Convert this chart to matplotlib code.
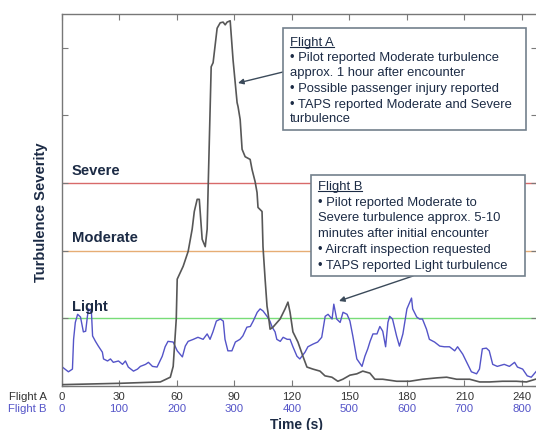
import matplotlib
matplotlib.use("Agg")
import matplotlib.pyplot as plt
from matplotlib.patches import Rectangle
from matplotlib.lines import Line2D

plt.rcParams["font.family"] = ["Liberation Sans", "DejaVu Sans"]

# Flight A: time (s) vs severity
time_a = [0, 30.7, 51.5, 56.7, 58.2, 59.8, 60.3, 63.4, 66.0, 68.1, 69.2, 70.7, 71.8, 73.3, 74.9,
          75.9, 76.4, 78.0, 79.0, 81.1, 82.7, 84.2, 85.3, 86.3, 87.9, 89.4, 91.5, 92.0, 93.1, 94.1,
          95.7, 98.3, 99.3, 100.9, 101.9, 102.4, 104.5, 105.0, 106.1, 107.1, 107.6, 108.7, 110.2,
          113.9, 116.5, 118.0, 119.1, 120.6, 123.2, 125.8, 127.9, 131.0, 134.7, 137.3, 140.9, 144.0,
          146.6, 150.3, 153.9, 157.0, 160.7, 163.3, 167.4, 174.7, 181.5, 188.2, 195.5, 200.7, 205.9,
          212.7, 217.9, 223.1, 229.8, 237.1, 242.3, 247.0]
sev_a = [0.02, 0.04, 0.06, 0.13, 0.29, 0.99, 1.58, 1.77, 1.99, 2.32, 2.58, 2.76, 2.76, 2.17, 2.06,
         2.32, 2.91, 4.72, 4.78, 5.29, 5.37, 5.38, 5.34, 5.38, 5.40, 4.82, 4.19, 4.13, 3.94, 3.50,
         3.39, 3.35, 3.20, 3.02, 2.86, 2.64, 2.58, 2.06, 1.58, 1.18, 1.09, 0.84, 0.87,
         0.99, 1.14, 1.24, 1.09, 0.80, 0.65, 0.44, 0.28, 0.25, 0.22, 0.15, 0.13, 0.07,
         0.10, 0.16, 0.18, 0.22, 0.19, 0.10, 0.10, 0.07, 0.07, 0.10, 0.12, 0.13, 0.10,
         0.10, 0.06, 0.06, 0.07, 0.07, 0.06, 0.10]

# Flight B: time (s) vs severity
time_b = [0, 12, 19, 21, 24, 28, 33, 38, 42, 45, 47, 52, 54, 59, 64, 71, 73, 80, 85, 90,
          99, 106, 111, 116, 125, 132, 137, 146, 151, 158, 166, 175, 180, 185, 194, 201, 210, 215, 220, 229,
          237, 246, 253, 258, 263, 269, 276, 281, 284, 289, 296, 302, 310, 315, 322, 328, 333, 340, 345, 350,
          357, 362, 366, 371, 374, 380, 385, 392, 397, 402, 409, 414, 423, 428, 437, 445, 452, 458, 463, 470,
          473, 478, 484, 489, 496, 501, 506, 513, 522, 527, 532, 536, 541, 548, 553, 558, 563, 567, 570, 575,
          582, 587, 593, 600, 605, 608, 610, 617, 622, 627, 634, 639, 648, 657, 665, 674, 683, 688, 697, 704,
          712, 721, 726, 731, 738, 743, 749, 757, 769, 778, 787, 792, 801, 809, 816, 825]
sev_b = [0.29, 0.21, 0.25, 0.69, 0.94, 1.06, 1.02, 0.80, 0.81, 1.03, 1.14, 1.09, 0.74, 0.66, 0.59, 0.50, 0.40, 0.37, 0.40, 0.35,
         0.37, 0.32, 0.37, 0.28, 0.22, 0.25, 0.29, 0.32, 0.35, 0.29, 0.28, 0.44, 0.58, 0.66, 0.65, 0.52, 0.43, 0.59, 0.66, 0.69,
         0.72, 0.69, 0.77, 0.69, 0.80, 0.96, 0.99, 0.96, 0.69, 0.52, 0.52, 0.65, 0.69, 0.74, 0.87, 0.88, 0.96, 1.09, 1.14, 1.11,
         1.03, 0.96, 0.87, 0.80, 0.69, 0.66, 0.72, 0.69, 0.69, 0.58, 0.44, 0.40, 0.50, 0.58, 0.62, 0.65, 0.72, 1.03, 1.06, 0.99,
         1.21, 0.99, 0.94, 1.09, 1.06, 0.96, 0.74, 0.40, 0.29, 0.44, 0.55, 0.66, 0.77, 0.77, 0.88, 0.81, 0.58, 0.94, 1.03, 0.99,
         0.74, 0.59, 0.77, 1.14, 1.24, 1.30, 1.14, 1.02, 0.99, 0.99, 0.84, 0.69, 0.65, 0.59, 0.58, 0.58, 0.52, 0.58, 0.47, 0.35,
         0.21, 0.18, 0.25, 0.55, 0.56, 0.52, 0.32, 0.29, 0.32, 0.29, 0.35, 0.28, 0.25, 0.15, 0.13, 0.22]

levels = ["Light", "Moderate", "Severe"]
level_values = [1, 2, 3]
level_colors = ["#78dc78", "#e6ad74", "#d86a6a"]

ticks_a = list(range(0, 241, 30))
ticks_b = list(range(0, 801, 100))
B_TO_A = 240 / 800  # flight B time axis is stretched to fit flight A's

note_a = ["\u2022 Pilot reported Moderate turbulence",
          "approx. 1 hour after encounter",
          "\u2022 Possible passenger injury reported",
          "\u2022 TAPS reported Moderate and Severe",
          "turbulence"]
note_b = ["\u2022 Pilot reported Moderate to",
          "Severe turbulence approx. 5-10",
          "minutes after initial encounter",
          "\u2022 Aircraft inspection requested",
          "\u2022 TAPS reported Light turbulence"]

NAVY = "#1c2b45"
GREY_A = "#575757"
BLUE_B = "#5454c8"
BOX_EDGE = "#73808c"
NOTE_FS = 9.4
LABEL_FS = 10.6
TICK_FS = 8.2

W, H = 536, 431


def fpos(x, y):
    # figure pixel (from top-left) -> figure fraction
    return x / W, 1 - y / H


fig = plt.figure(figsize=(W / 100, H / 100), dpi=100)
ax = fig.add_axes([61.5 / W, 1 - 387 / H, (537 - 61.5) / W, (387 - 15) / H])

for name, val, col in zip(levels, level_values, level_colors):
    ax.axhline(val, color=col, lw=1.0, zorder=1)
for name, val in zip(levels, level_values):
    ax.text(5.3, val + (0.18 if name == "Light" else 0.2), name, fontsize=LABEL_FS,
            fontweight="bold", color=NAVY, va="center")

ax.plot([t * B_TO_A for t in time_b], sev_b, color=BLUE_B, lw=1.0, zorder=2)
ax.plot(time_a, sev_a, color=GREY_A, lw=1.2, zorder=3)

ax.set_xlim(0, (537 - 61.5) / 57.57 * 30)
ax.set_ylim(0, 5.5)
ax.set_xticks(ticks_a)
ax.set_xticklabels([str(t) for t in ticks_a])
ax.set_yticks(range(0, 6))
ax.set_yticklabels([])
ax.tick_params(direction="in", length=4, top=True, right=True, color="#7a7a7a",
               labelsize=TICK_FS, labelcolor="#333333", pad=3.5)
for s in ax.spines.values():
    s.set_color("#777777")
    s.set_linewidth(1.0)

sec = ax.secondary_xaxis("bottom", functions=(lambda x: x / B_TO_A, lambda x: x * B_TO_A))
sec.set_xticks(ticks_b)
sec.set_xticklabels([str(t) for t in ticks_b])
sec.tick_params(length=0, pad=12, labelsize=TICK_FS, labelcolor=BLUE_B)
sec.spines["bottom"].set_visible(False)

fig.text(*fpos(47, 397), "Flight A", fontsize=TICK_FS, color="#333333", ha="right", va="center")
fig.text(*fpos(47, 409.5), "Flight B", fontsize=TICK_FS, color=BLUE_B, ha="right", va="center")
fig.text(*fpos(296, 429), "Time (s)", fontsize=10, fontweight="bold", color=NAVY,
         ha="center", va="baseline")
fig.text(*fpos(41, 212), "Turbulence Severity", fontsize=LABEL_FS, fontweight="bold", color=NAVY,
         rotation=90, ha="center", va="center")


def note_box(left, top, right, bottom, title, lines, ys):
    x0, y0 = fpos(left, bottom)
    x1, y1 = fpos(right, top)
    fig.add_artist(Rectangle((x0, y0), x1 - x0, y1 - y0, transform=fig.transFigure,
                             facecolor="white", edgecolor=BOX_EDGE, lw=1.2, zorder=5))
    t = fig.text(*fpos(left + 7, ys[0]), title, fontsize=NOTE_FS, color=NAVY, va="center", zorder=6)
    for line, y in zip(lines, ys[1:]):
        fig.text(*fpos(left + 7, y), line, fontsize=NOTE_FS, color=NAVY, va="center", zorder=6)
    return t


title_a = note_box(283, 29, 526, 131, "Flight A", note_a, [43, 58, 73, 89, 105, 119])
title_b = note_box(311, 176, 525, 277, "Flight B", note_b, [187, 203, 218, 234, 250, 266])

fig.canvas.draw()
renderer = fig.canvas.get_renderer()
for t in (title_a, title_b):
    bb = t.get_window_extent(renderer)
    yu = (bb.y0 + 1) / H
    fig.add_artist(Line2D([bb.x0 / W, bb.x1 / W], [yu, yu], transform=fig.transFigure,
                          color=NAVY, lw=0.8, zorder=6))

arrow = dict(arrowstyle="-|>", color="#3b4a5a", lw=1.0, mutation_scale=8, shrinkA=0, shrinkB=0)
ax.annotate("", xy=fpos(238, 84), xycoords="figure fraction",
            xytext=fpos(283, 73), textcoords="figure fraction", arrowprops=arrow)
ax.annotate("", xy=fpos(339, 302), xycoords="figure fraction",
            xytext=fpos(413, 277), textcoords="figure fraction", arrowprops=arrow)

fig.savefig("out.png", dpi=100)
